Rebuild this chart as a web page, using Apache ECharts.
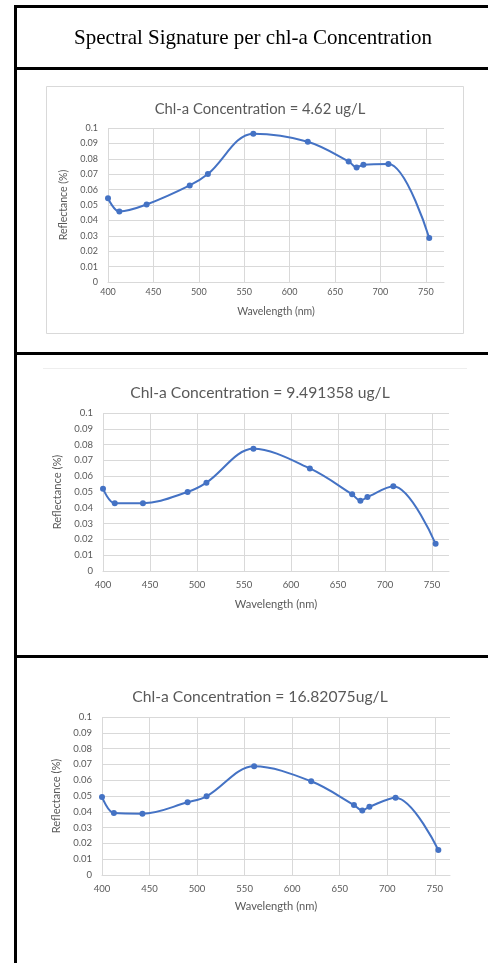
<!DOCTYPE html>
<html>
<head>
<meta charset="utf-8">
<script src="https://cdn.jsdelivr.net/npm/echarts@6/dist/echarts.min.js"></script>
<style>
  html, body { margin: 0; padding: 0; background: #fff; }
  #main { width: 488px; height: 963px; }
</style>
</head>
<body>
<div id="main"></div>
<script>
// ---- Data ----
const headerTitle = 'Spectral Signature per chl-a Concentration';
const chartTitles = [
  'Chl-a Concentration = 4.62 ug/L',
  'Chl-a Concentration = 9.491358 ug/L',
  'Chl-a Concentration = 16.82075ug/L'
];
const xAxisName = 'Wavelength (nm)';
const yAxisName = 'Reflectance (%)';
const wavelengths = [400, 412.5, 442.5, 490, 510, 560, 620, 665, 673.75, 681.25, 708.75, 753.75];
const refl_4_62 = [0.0544, 0.0458, 0.0503, 0.0627, 0.0701, 0.0963, 0.0911, 0.0783, 0.0744, 0.0761, 0.0766, 0.0286];
const refl_9_49 = [0.0521, 0.0429, 0.0429, 0.0500, 0.0559, 0.0773, 0.0649, 0.0485, 0.0445, 0.0468, 0.0536, 0.0172];
const refl_16_82 = [0.0494, 0.0392, 0.0388, 0.0460, 0.0498, 0.0688, 0.0593, 0.0443, 0.0409, 0.0432, 0.0489, 0.0158];
const xTickMin = 400, xTickStep = 50;
const yTickMin = 0, yTickMax = 0.1, yTickStep = 0.01;

const seriesList = [refl_4_62, refl_9_49, refl_16_82];

// ---- Layout ----
const grids = [
  { left: 108, top: 128, width: 336, height: 154, xMax: 770, titleTop: 97, xLabelMargin: 6, xNameGap: 24, yNameGap: 32, fs: 1.0 },
  { left: 103, top: 413, width: 346, height: 158, xMax: 768, titleTop: 380, xLabelMargin: 9, xNameGap: 28, yNameGap: 31, fs: 1.06 },
  { left: 102, top: 717, width: 348, height: 158, xMax: 766, titleTop: 684, xLabelMargin: 9, xNameGap: 26, yNameGap: 33, fs: 1.06 }
];
const FONT = 'Lato';
const TXT = '#595959';
const GRIDC = '#d9d9d9';
const BLUE = '#4472C4';

const chart = echarts.init(document.getElementById('main'), null, { renderer: 'canvas' });

const option = {
  backgroundColor: '#fff',
  animation: false,
  title: grids.map((g, i) => ({
    text: chartTitles[i],
    left: 255,
    top: g.titleTop,
    textAlign: 'center',
    textStyle: { fontFamily: FONT, fontSize: 14.8 * g.fs, fontWeight: 'normal', color: TXT }
  })),
  grid: grids.map(g => ({ left: g.left, top: g.top, width: g.width, height: g.height, containLabel: false })),
  xAxis: grids.map((g, i) => ({
    type: 'value', gridIndex: i, min: xTickMin, max: g.xMax, interval: xTickStep,
    name: xAxisName, nameLocation: 'middle', nameGap: g.xNameGap,
    nameTextStyle: { fontFamily: FONT, fontSize: 10.5 * g.fs, color: TXT },
    axisLine: { show: true, lineStyle: { color: GRIDC, width: 1 } },
    axisTick: { show: false },
    axisLabel: { showMaxLabel: false, margin: g.xLabelMargin, fontFamily: FONT, fontSize: 9 * g.fs, color: TXT,
      formatter: v => (v > 750 ? '' : String(v)) },
    splitLine: { show: true, showMaxLine: false, lineStyle: { color: GRIDC, width: 1 } }
  })),
  yAxis: grids.map((g, i) => ({
    type: 'value', gridIndex: i, min: yTickMin, max: yTickMax, interval: yTickStep,
    name: yAxisName, nameLocation: 'middle', nameGap: g.yNameGap,
    nameTextStyle: { fontFamily: FONT, fontSize: 10.5 * g.fs, color: TXT },
    axisLine: { show: false },
    axisTick: { show: false },
    axisLabel: { margin: 10, fontFamily: FONT, fontSize: 9 * g.fs, color: TXT,
      formatter: v => String(+v.toFixed(2)) },
    splitLine: { show: true, lineStyle: { color: GRIDC, width: 1 } }
  })),
  series: seriesList.map((vals, i) => ({
    type: 'line', xAxisIndex: i, yAxisIndex: i,
    data: wavelengths.map((w, k) => [w, vals[k]]),
    smooth: 0.35,
    symbol: 'circle', symbolSize: 6,
    lineStyle: { color: BLUE, width: 2 },
    itemStyle: { color: BLUE }
  })),
  graphic: [
    // table borders
    { type: 'rect', shape: { x: 14, y: 5, width: 474, height: 3 }, style: { fill: '#000' } },
    { type: 'rect', shape: { x: 14, y: 5, width: 3, height: 958 }, style: { fill: '#000' } },
    { type: 'rect', shape: { x: 14, y: 67, width: 474, height: 3 }, style: { fill: '#000' } },
    { type: 'rect', shape: { x: 14, y: 352, width: 474, height: 3 }, style: { fill: '#000' } },
    { type: 'rect', shape: { x: 14, y: 655, width: 474, height: 3 }, style: { fill: '#000' } },
    // chart 1 frame
    { type: 'rect', shape: { x: 46.5, y: 86.5, width: 417, height: 247 }, style: { fill: null, stroke: GRIDC, lineWidth: 1 } },
    // faint top of chart 2 frame
    { type: 'line', shape: { x1: 43, y1: 368.5, x2: 467, y2: 368.5 }, style: { stroke: '#eeeeee', lineWidth: 1 } },
    // header text
    { type: 'text', x: 253, y: 38, style: { text: headerTitle, fontFamily: 'Liberation Serif', fontSize: 21,
      fill: '#000', align: 'center', verticalAlign: 'middle' } }
  ]
};
chart.setOption(option);
</script>
</body>
</html>
